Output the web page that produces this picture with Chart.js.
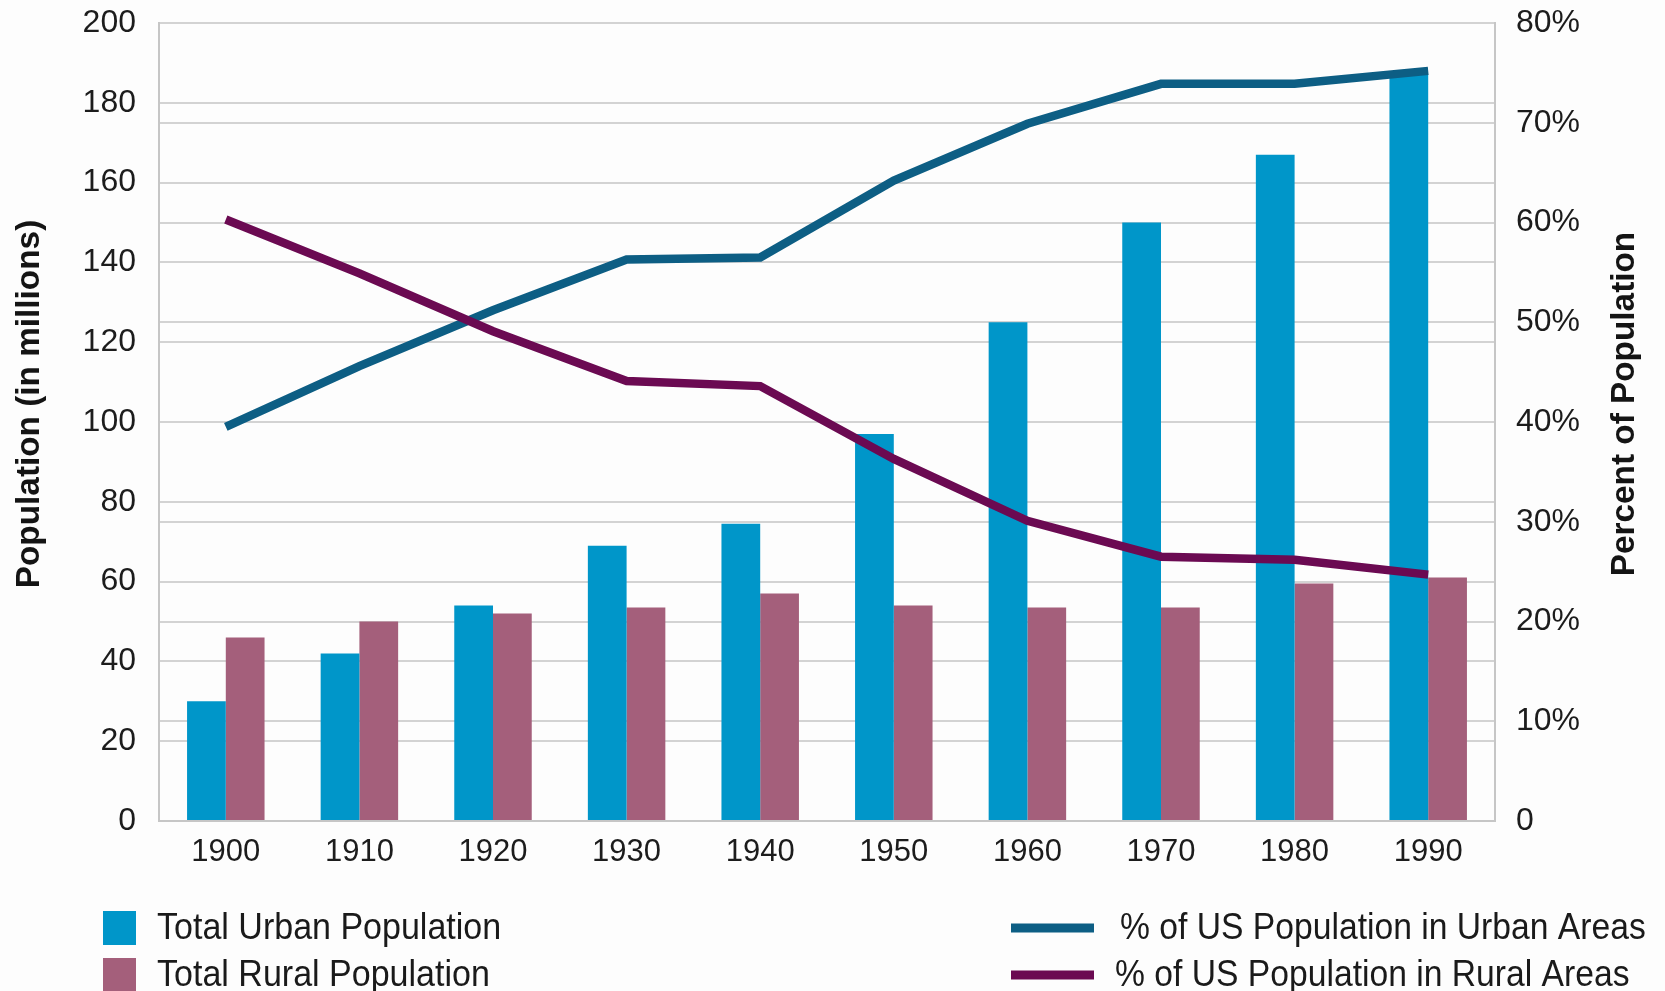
<!DOCTYPE html>
<html>
<head>
<meta charset="utf-8">
<script src="https://cdn.jsdelivr.net/npm/chart.js@4.4.1/dist/chart.umd.min.js"></script>
<style>
html,body{margin:0;padding:0;background:#fdfdfd;}
#wrap{width:1665px;height:991px;position:relative;}
</style>
</head>
<body>
<div id="wrap"><canvas id="c" width="1665" height="991"></canvas></div>
<script>
const years = ['1900','1910','1920','1930','1940','1950','1960','1970','1980','1990'];
const urbanPop = [30, 42, 54, 69, 74.5, 97, 125, 150, 167, 187];
const ruralPop = [46, 50, 52, 53.5, 57, 54, 53.5, 53.5, 59.5, 61];
const urbanPct = [39.5, 45.6, 51.2, 56.3, 56.5, 64.2, 69.9, 73.9, 73.9, 75.2];
const ruralPct = [60.3, 54.9, 49.1, 44.1, 43.6, 36.3, 30.1, 26.5, 26.2, 24.7];
const leftTicks = [0, 20, 40, 60, 80, 100, 120, 140, 160, 180, 200];
const rightTicks = [0, 10, 20, 30, 40, 50, 60, 70, 80];
const leftTitle = 'Population (in millions)';
const rightTitle = 'Percent of Population';

const FONT = "'Liberation Sans', Arial, Helvetica, sans-serif";

const customDraw = {
  id: 'customDraw',
  afterDraw(chart) {
    const ctx = chart.ctx;
    const cy = 404;
    ctx.save();
    ctx.fillStyle = '#141414';
    ctx.font = 'bold 33px ' + FONT;
    ctx.textAlign = 'center';
    ctx.textBaseline = 'middle';
    ctx.save();
    ctx.translate(30, cy);
    ctx.rotate(-Math.PI / 2);
    ctx.scale(1.01, 1);
    ctx.fillText(leftTitle, 0, 0);
    ctx.restore();
    ctx.save();
    ctx.translate(1625, cy);
    ctx.rotate(-Math.PI / 2);
    ctx.scale(1.01, 1);
    ctx.fillText(rightTitle, 0, 0);
    ctx.restore();

    const ds = chart.data.datasets;
    ctx.font = '36px ' + FONT;
    ctx.textAlign = 'left';
    const rows = [928, 975];
    [0, 1].forEach((i, r) => {
      ctx.fillStyle = ds[i].backgroundColor;
      ctx.fillRect(103, rows[r] - 17, 33, 34);
      ctx.fillStyle = '#1a1a1a';
      ctx.save();
      ctx.translate(157, rows[r] + 1);
      ctx.scale(0.945, 1);
      ctx.fillText(ds[i].label, 0, 0);
      ctx.restore();
    });
    const textX = [1120, 1115];
    [2, 3].forEach((i, r) => {
      ctx.fillStyle = ds[i].borderColor;
      ctx.fillRect(1011, rows[r] - 4.5, 83, 9);
      ctx.fillStyle = '#1a1a1a';
      ctx.save();
      ctx.translate(textX[r], rows[r] + 1);
      ctx.scale(0.935, 1);
      ctx.fillText(ds[i].label, 0, 0);
      ctx.restore();
    });
    ctx.restore();
  }
};

new Chart(document.getElementById('c'), {
  data: {
    labels: years,
    datasets: [
      { type: 'bar', label: 'Total Urban Population', data: urbanPop, backgroundColor: '#0096C9', yAxisID: 'y', order: 2,
        categoryPercentage: 0.58, barPercentage: 1.0 },
      { type: 'bar', label: 'Total Rural Population', data: ruralPop, backgroundColor: '#A45F7B', yAxisID: 'y', order: 2,
        categoryPercentage: 0.58, barPercentage: 1.0 },
      { type: 'line', label: '% of US Population in Urban Areas', data: urbanPct, borderColor: '#0D5E84', backgroundColor: '#0D5E84',
        borderWidth: 8.5, pointRadius: 0, tension: 0, yAxisID: 'y1', order: 1, borderCapStyle: 'butt' },
      { type: 'line', label: '% of US Population in Rural Areas', data: ruralPct, borderColor: '#6B0A52', backgroundColor: '#6B0A52',
        borderWidth: 8.5, pointRadius: 0, tension: 0, yAxisID: 'y1', order: 0, borderCapStyle: 'butt' }
    ]
  },
  options: {
    responsive: false,
    animation: false,
    devicePixelRatio: 1,
    layout: { padding: { top: 23, left: 0, right: 0, bottom: 0 } },
    plugins: { legend: { display: false }, tooltip: { enabled: false }, title: { display: false } },
    scales: {
      x: {
        type: 'category',
        offset: true,
        grid: { display: false, drawTicks: false },
        border: { display: true, color: '#c6c6c6', width: 2 },
        ticks: { color: '#1c1c1c', font: { family: FONT, size: 31 }, padding: 13, maxRotation: 0 },
        afterFit(s) { s.height = 170; s.paddingLeft = 0; s.paddingRight = 0; }
      },
      y: {
        position: 'left',
        min: 0, max: 200,
        afterBuildTicks(s) { s.ticks = leftTicks.map(v => ({ value: v })); },
        grid: { color: '#d3d3d3', lineWidth: 2, drawTicks: false },
        border: { display: true, color: '#c6c6c6', width: 2 },
        ticks: { color: '#1c1c1c', font: { family: FONT, size: 32 }, padding: 23 },
        afterFit(s) { s.width = 159; s.paddingTop = 0; s.paddingBottom = 0; }
      },
      y1: {
        position: 'right',
        min: 0, max: 80,
        afterBuildTicks(s) { s.ticks = rightTicks.map(v => ({ value: v })); },
        grid: { color: '#d3d3d3', lineWidth: 2, drawTicks: false },
        border: { display: true, color: '#c6c6c6', width: 2 },
        ticks: { color: '#1c1c1c', font: { family: FONT, size: 32 }, padding: 21,
          callback: v => v === 0 ? '0' : v + '%' },
        afterFit(s) { s.width = 170; s.paddingTop = 0; s.paddingBottom = 0; }
      }
    }
  },
  plugins: [customDraw]
});
</script>
</body>
</html>
